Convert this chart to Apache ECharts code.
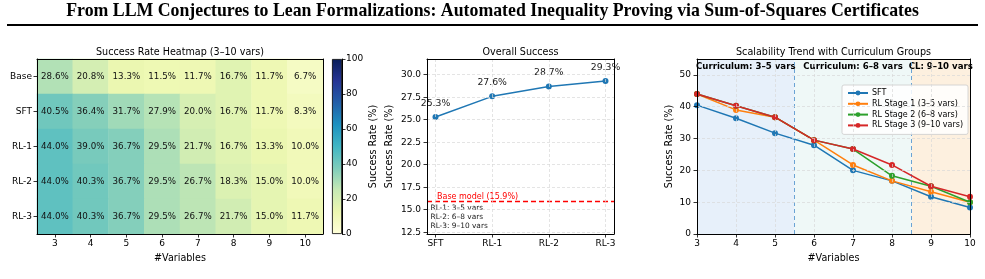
<!DOCTYPE html>
<html><head><meta charset="utf-8">
<script src="https://cdn.jsdelivr.net/npm/echarts@6/dist/echarts.min.js"></script>
<style>html,body{margin:0;padding:0;background:#fff}#c{width:985px;height:279px}</style>
</head><body><div id="c"></div>
<script>
// ---------- data ----------
const varCats = ['3','4','5','6','7','8','9','10'];
const varNums = [3,4,5,6,7,8,9,10];
const modelCats = ['Base','SFT','RL-1','RL-2','RL-3'];
const heatBase = [28.6,20.8,13.3,11.5,11.7,16.7,11.7,6.7];
const heatSFT  = [40.5,36.4,31.7,27.9,20.0,16.7,11.7,8.3];
const heatRL1  = [44.0,39.0,36.7,29.5,21.7,16.7,13.3,10.0];
const heatRL2  = [44.0,40.3,36.7,29.5,26.7,18.3,15.0,10.0];
const heatRL3  = [44.0,40.3,36.7,29.5,26.7,21.7,15.0,11.7];
const colorbarTicks = [0,20,40,60,80,100];
const overallCats = ['SFT','RL-1','RL-2','RL-3'];
const overallVals = [25.3,27.6,28.7,29.3];
const baseOverall = 15.9;
const overallTicks = [12.5,15,17.5,20,22.5,25,27.5,30];
const stageNotes = ['RL-1: 3–5 vars','RL-2: 6–8 vars','RL-3: 9–10 vars'];
const trendNames = ['SFT','RL Stage 1 (3–5 vars)','RL Stage 2 (6–8 vars)','RL Stage 3 (9–10 vars)'];
const trendTicksY = [0,10,20,30,40,50];
const groupBounds = [3,5.5,8.5,10];
const groupLabels = ['Curriculum: 3–5 vars','Curriculum: 6–8 vars','CL: 9–10 vars'];

// ---------- styles ----------
const FONT = 'DejaVu Sans';
const YlGnBu = ['#ffffd9','#edf8b1','#c7e9b4','#7fcdbb','#41b6c4','#1d91c0','#225ea8','#253494','#081d58'];
const lineColors = ['#1f77b4','#ff7f0e','#2ca02c','#d62728'];
const groupColors = ['#e7f0fa','#eff8f7','#fdf0df'];
const tickFs = 9, titleFs = 9.6;

const heatRows = [heatBase, heatSFT, heatRL1, heatRL2, heatRL3];
const heatData = [];
heatRows.forEach((row, yi) => row.forEach((v, xi) => heatData.push([xi, yi, v])));

function frameAxis(g, pos){
  return {type:'value', gridIndex:g, position:pos, min:0, max:1, z:10,
    axisLine:{show:true, onZero:false, lineStyle:{color:'#000', width:1}},
    axisTick:{show:false}, axisLabel:{show:false}, splitLine:{show:false}};
}
const tickStyle = {show:true, length:3.5, lineStyle:{color:'#000', width:0.8}};
const lblStyle = {fontFamily:FONT, fontSize:tickFs, color:'#000'};
const nameStyle = {fontFamily:FONT, fontSize:titleFs, color:'#000'};
const gridLine = {show:true, lineStyle:{color:'#d9d9d9', type:[3,2], width:0.7}};

const chart = echarts.init(document.getElementById('c'), null, {renderer:'canvas'});
const gradStops = YlGnBu.map((c,i)=>({offset:i/(YlGnBu.length-1), color:c}));
const baseLineStyle = {color:'#ff0000', type:[5,3], width:1.3, opacity:1};

const option = {
  backgroundColor:'#fff',
  animation:false,
  title:[
    {text:'From LLM Conjectures to Lean Formalizations: Automated Inequality Proving via Sum-of-Squares Certificates',
     left:'center', top:2, padding:0,
     textStyle:{fontFamily:'Liberation Serif', fontWeight:'bold', fontSize:17.8, color:'#000'}},
    {text:'Success Rate Heatmap (3–10 vars)', left:180, textAlign:'center', top:47, padding:0, textStyle:{...nameStyle, fontWeight:'normal'}},
    {text:'Overall Success', left:520.5, textAlign:'center', top:47, padding:0, textStyle:{...nameStyle, fontWeight:'normal'}},
    {text:'Scalability Trend with Curriculum Groups', left:833.5, textAlign:'center', top:47, padding:0, textStyle:{...nameStyle, fontWeight:'normal'}}
  ],
  graphic:[
    {type:'line', shape:{x1:7, y1:25, x2:978, y2:25}, style:{stroke:'#000', lineWidth:2}},
    {type:'text', left:430.5, top:203, style:{text:stageNotes.join('\n'), fontFamily:FONT, fontSize:7.4, lineHeight:9.3, fill:'#222'}}
  ],
  grid:[
    {left:37, top:59, width:286, height:175},
    {left:427, top:59, width:187, height:175},
    {left:697, top:59, width:273, height:175},
    {left:332, top:59, width:10, height:175}
  ],
  visualMap:{show:false, seriesIndex:0, min:0, max:100, inRange:{color:YlGnBu}},
  legend:{
    data:trendNames, orient:'vertical', left:842, top:85, padding:[4,5,5,5], itemGap:2.8,
    itemWidth:20, itemHeight:6, borderColor:'#cccccc', borderWidth:0.8, borderRadius:2,
    backgroundColor:'rgba(255,255,255,0.85)',
    textStyle:{fontFamily:FONT, fontSize:8, color:'#000', padding:[0,0,0,-1]}
  },
  xAxis:[
    {type:'category', gridIndex:0, data:varCats, position:'bottom', z:10,
     axisLine:{show:true, lineStyle:{color:'#000'}}, axisTick:{...tickStyle, alignWithLabel:true},
     axisLabel:{...lblStyle, margin:5}, splitLine:{show:false},
     name:'#Variables', nameLocation:'middle', nameGap:19, nameTextStyle:nameStyle},
    frameAxis(0,'top'),
    {type:'value', gridIndex:1, min:-0.15, max:3.15, z:10,
     axisLine:{show:true, onZero:false, lineStyle:{color:'#000'}},
     axisTick:{...tickStyle, customValues:[0,1,2,3]},
     axisLabel:{...lblStyle, margin:5, customValues:[0,1,2,3], formatter:v=>overallCats[Math.round(v)]},
     splitLine:gridLine},
    frameAxis(1,'top'),
    {type:'value', gridIndex:2, min:3, max:10, interval:1, z:10,
     axisLine:{show:true, onZero:false, lineStyle:{color:'#000'}}, axisTick:tickStyle,
     axisLabel:{...lblStyle, margin:5}, splitLine:gridLine,
     name:'#Variables', nameLocation:'middle', nameGap:19, nameTextStyle:nameStyle},
    frameAxis(2,'top'),
    {type:'category', gridIndex:3, data:['cb'], show:false}
  ],
  yAxis:[
    {type:'category', gridIndex:0, data:modelCats, inverse:true, z:10,
     axisLine:{show:true, lineStyle:{color:'#000'}}, axisTick:{...tickStyle, alignWithLabel:true},
     axisLabel:{...lblStyle, margin:5}, splitLine:{show:false}},
    frameAxis(0,'right'),
    {type:'value', gridIndex:1, min:12.3, max:31.75, z:10,
     axisLine:{show:true, onZero:false, lineStyle:{color:'#000'}},
     axisTick:{...tickStyle, customValues:overallTicks},
     axisLabel:{...lblStyle, margin:6, customValues:overallTicks, formatter:v=>v.toFixed(1)},
     splitLine:gridLine,
     name:'Success Rate (%)', nameLocation:'middle', nameGap:33, nameTextStyle:nameStyle},
    frameAxis(1,'right'),
    {type:'value', gridIndex:2, min:0, max:55, z:10,
     axisLine:{show:true, onZero:false, lineStyle:{color:'#000'}},
     axisTick:{...tickStyle, customValues:trendTicksY},
     axisLabel:{...lblStyle, margin:6, customValues:trendTicksY},
     splitLine:gridLine,
     name:'Success Rate (%)', nameLocation:'middle', nameGap:23, nameTextStyle:nameStyle},
    frameAxis(2,'right'),
    {type:'value', gridIndex:3, min:0, max:100, interval:20, position:'right', z:10,
     axisLine:{show:true, lineStyle:{color:'#000'}}, axisTick:tickStyle,
     axisLabel:{...lblStyle, margin:4}, splitLine:{show:false},
     name:'Success Rate (%)', nameLocation:'middle', nameGap:26, nameTextStyle:nameStyle}
  ],
  series:[
    {type:'heatmap', xAxisIndex:0, yAxisIndex:0, data:heatData,
     label:{show:true, fontFamily:FONT, fontSize:8.7, color:'#111', formatter:p=>p.value[2].toFixed(1)+'%'},
     itemStyle:{borderWidth:0}, emphasis:{disabled:true}},
    {type:'bar', xAxisIndex:6, yAxisIndex:6, data:[100], barWidth:'100%', silent:true,
     itemStyle:{color:new echarts.graphic.LinearGradient(0,1,0,0,gradStops), borderColor:'#000', borderWidth:0.8}},
    {type:'line', xAxisIndex:2, yAxisIndex:2, data:overallVals.map((v,i)=>[i,v]),
     symbol:'circle', symbolSize:6, lineStyle:{color:'#1f77b4', width:1.5}, itemStyle:{color:'#1f77b4'},
     label:{show:true, position:'top', distance:6, fontFamily:FONT, fontSize:9.3, color:'#222',
       formatter:p=>p.value[1].toFixed(1)+'%'},
     markLine:{silent:true, symbol:'none', animation:false,
       lineStyle:baseLineStyle, itemStyle:{color:'#ff0000'},
       emphasis:{disabled:true, lineStyle:baseLineStyle},
       label:{show:true, position:'insideStartTop', distance:[10,1], formatter:'Base model (15.9%)',
         fontFamily:FONT, fontSize:8, color:'#ff0000'},
       data:[{yAxis:baseOverall, lineStyle:baseLineStyle, itemStyle:{color:'#ff0000'}}]}},
    ...[heatSFT, heatRL1, heatRL2, heatRL3].map((arr, k) => ({
      type:'line', name:trendNames[k], xAxisIndex:4, yAxisIndex:4,
      data:varNums.map((x,i)=>[x, arr[i]]), symbol:'circle', symbolSize:6, z:3+k,
      lineStyle:{color:lineColors[k], width:1.5}, itemStyle:{color:lineColors[k]},
      ...(k===0 ? {
        markArea:{silent:true, z:0,
          label:{show:true, position:'insideTop', distance:3, fontFamily:FONT, fontWeight:'bold', fontSize:8.6, color:'#000'},
          data:groupLabels.map((lab, j) => [
            {xAxis:groupBounds[j], yAxis:0, name:lab, itemStyle:{color:groupColors[j]}},
            {xAxis:groupBounds[j+1], yAxis:55}])},
        markLine:{silent:true, symbol:'none', z:1,
          lineStyle:{color:'#6aa3d4', type:[4,3], width:1},
          label:{show:false},
          data:[{xAxis:groupBounds[1]},{xAxis:groupBounds[2]}]}
      } : {})
    }))
  ]
};
chart.setOption(option);
</script>
</body></html>
